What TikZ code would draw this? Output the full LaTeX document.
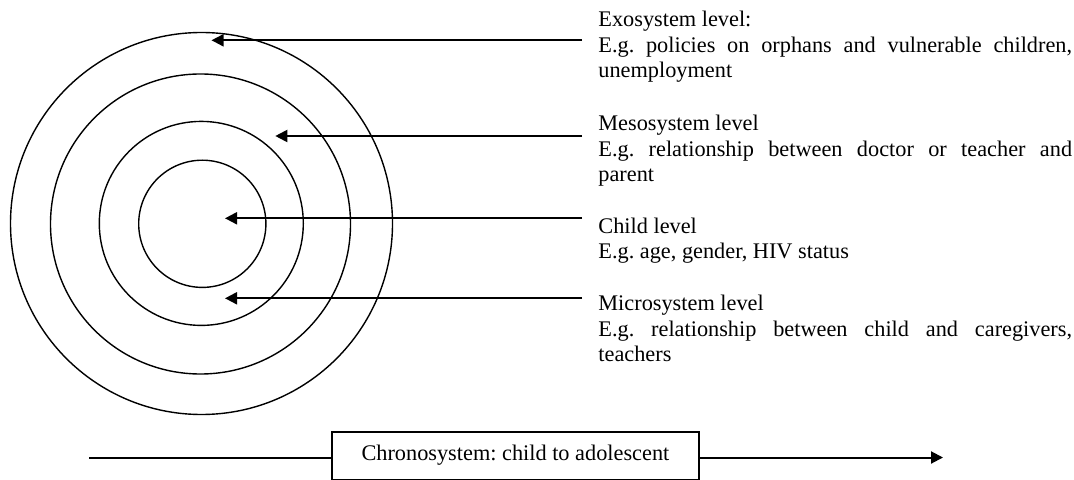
\documentclass[tikz,border=0pt]{standalone}
\usepackage{fontspec}
\setmainfont{Liberation Serif}
\usetikzlibrary{arrows.meta}
\frenchspacing

\begin{document}
\begin{tikzpicture}[x=0.5pt,y=-0.5pt]
\tikzset{every node/.style={inner sep=0pt},
  ring/.style={line width=0.7pt},
  levelnote/.style={anchor=base west,text width=236.85pt,align=justify,
    font=\fontsize{11.15}{12.75}\selectfont},
  pointer/.style={line width=1pt,-{Triangle[length=6pt,width=6pt]}}}
\useasboundingbox (0,0) rectangle (1074,480);
\draw [ring] (201.5,223.5) circle [radius=191];
\draw [ring] (200.5,224) circle [radius=150];
\draw [ring] (201.3,223.4) circle [radius=102];
\draw [ring] (202.3,223.8) circle [radius=63.6];
\node [levelnote] (exo) at (598,26.7) {Exosystem level:\\E.g. policies on orphans and vulnerable children,\linebreak unemployment};
\node [levelnote] (meso) at (598,130.7) {Mesosystem level\\E.g. relationship between doctor or teacher and\linebreak parent};
\node [levelnote] (child) at (598,233.3) {Child level\\E.g. age, gender, HIV status};
\node [levelnote] (micro) at (598,310.7) {Microsystem level\\E.g. relationship between child and caregivers,\linebreak teachers};
\coordinate (exoA) at (582,40.3);
\coordinate (exoT) at (211.5,40.3);
\coordinate (mesoA) at (582,136);
\coordinate (mesoT) at (275.3,136);
\coordinate (childA) at (582,218.3);
\coordinate (childT) at (225,218.3);
\coordinate (microA) at (582,298.3);
\coordinate (microT) at (225,298.3);
\draw [pointer] (exoA) -- (exoT);
\draw [pointer] (mesoA) -- (mesoT);
\draw [pointer] (childA) -- (childT);
\draw [pointer] (microA) -- (microT);
\node [draw,line width=0.7pt,minimum width=183.6pt,minimum height=23.7pt,
  font=\fontsize{11.15}{12.75}\selectfont] (chrono) at (515.4,455.6) {Chronosystem: child to adolescent};
\coordinate (chronoL) at (89,457.5);
\coordinate (chronoR) at (943,457.5);
\draw [line width=1pt] (chronoL) -- (chronoL -| chrono.west);
\draw [pointer] (chronoL -| chrono.east) -- (chronoR);
\end{tikzpicture}
\end{document}
